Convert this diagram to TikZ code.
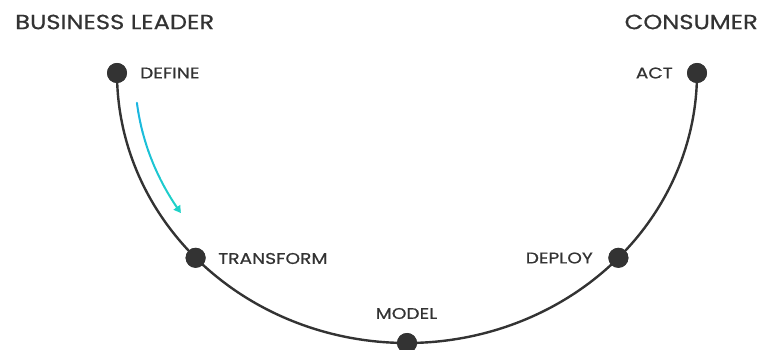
\documentclass[tikz,border=0pt]{standalone}
\usepackage{fontspec}
\newfontfamily\headfont[FakeStretch=1.18,FakeBold=0.6]{Poppins}
\newfontfamily\lblfont[FakeStretch=1.2,FakeBold=0.6]{Poppins}
\usetikzlibrary{arrows.meta,calc}
\definecolor{ink}{HTML}{333333}
\definecolor{cyA}{HTML}{1BB4E2}
\definecolor{cyB}{HTML}{1ED3C6}
\tikzset{
  dot/.style={circle,fill=ink,draw=none,minimum size=20pt,inner sep=0pt},
  head/.style={text=ink,font=\headfont\fontsize{20.5}{21}\selectfont,inner sep=0pt},
  lbl/.style={text=ink,font=\lblfont\fontsize{15.5}{16}\selectfont,inner sep=0pt},
  arcline/.style={draw=ink,line width=2.4pt}
}
\begin{document}
\begin{tikzpicture}[x=1pt,y=1pt]
\useasboundingbox (0,0) rectangle (762,350);
\coordinate (c) at (407,277);
% nodes on the arc
\node[dot] (define) at ($(c)+(180:290 and 270)$) {};
\node[dot] (transform) at ($(c)+(223.2:290 and 270)$) {};
\node[dot] (model) at ($(c)+(270:290 and 270)$) {};
\node[dot] (deploy) at ($(c)+(316.8:290 and 270)$) {};
\node[dot] (act) at ($(c)+(360:290 and 270)$) {};
% arc connectors
\draw[arcline] (define.center) arc[start angle=180,end angle=223.2,x radius=290pt,y radius=270pt]
  -- (transform.center) arc[start angle=223.2,end angle=270,x radius=290pt,y radius=270pt]
  -- (model.center) arc[start angle=270,end angle=316.8,x radius=290pt,y radius=270pt]
  -- (deploy.center) arc[start angle=316.8,end angle=360,x radius=290pt,y radius=270pt]
  -- (act.center);
\node[dot] at (define) {};
\node[dot] at (transform) {};
\node[dot] at (model) {};
\node[dot] at (deploy) {};
\node[dot] at (act) {};
% labels
\node[head,anchor=west] (bl) at (15,328) {BUSINESS LEADER};
\node[head,anchor=east] (cons) at (758,328) {CONSUMER};
\node[lbl,anchor=west] (tdefine) at (140,277) {DEFINE};
\node[lbl,anchor=east] (tact) at (673,277) {ACT};
\node[lbl,anchor=west] (ttransform) at (218,91.5) {TRANSFORM};
\node[lbl,anchor=east] (tdeploy) at (593,92) {DEPLOY};
\node[lbl] (tmodel) at (406.5,36.5) {MODEL};
% gradient arrow
\foreach \i in {0,...,11}{
  \pgfmathsetmacro{\ta}{186.8+(213.75-186.8)*\i/12}
  \pgfmathsetmacro{\tb}{186.8+(213.75-186.8)*(\i+1)/12}
  \pgfmathsetmacro{\p}{100-100*(\i+0.5)/12}
  \ifnum\i<11
    \draw[line width=2pt,line cap=round,color=cyA!\p!cyB]
      plot[domain=\ta:\tb,samples=6,smooth] ({407+272*cos(\x)},{277+252*sin(\x)});
  \else
    \draw[line width=2pt,color=cyA!\p!cyB,-{Triangle[length=7pt,width=8pt]}]
      plot[domain=\ta:\tb,samples=6,smooth] ({407+272*cos(\x)},{277+252*sin(\x)});
  \fi
}
\end{tikzpicture}
\end{document}
